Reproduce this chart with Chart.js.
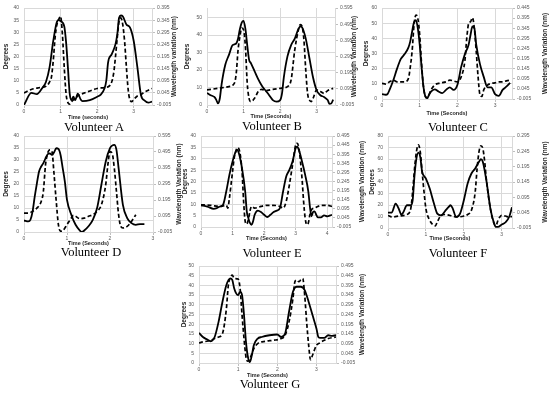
<!DOCTYPE html>
<html>
<head>
<meta charset="utf-8">
<script src="https://cdn.jsdelivr.net/npm/chart.js@4.4.0/dist/chart.umd.min.js"></script>
<style>
  html, body { margin: 0; padding: 0; background: #fff; }
  #fig { position: relative; width: 550px; height: 393px; overflow: hidden; background: #fff; }
  #fig canvas { position: absolute; }
  .cap { position: absolute; width: 120px; text-align: center; font: 12.5px 'Liberation Serif', 'Times New Roman', serif; line-height: 18px; color: #000; white-space: nowrap; }
</style>
</head>
<body>
<div id="fig"></div>
<script>
// ---- Volunteer A ----
const tA = [0,0.2,0.35,0.5,0.6,0.7,0.8,0.9,0.95,1.0,1.1,1.15,1.2,1.25,1.3,1.35,1.4,1.47,1.55,1.6,1.8,2.0,2.1,2.2,2.25,2.3,2.4,2.5,2.55,2.6,2.65,2.7,2.8,2.9,3.0,3.1,3.2,3.3,3.4,3.5];
const degA = [0,5,4.5,7,9.5,15.6,26.4,34.3,35,34.6,32.5,26,15.6,4.7,2,3.4,2,4.7,2.3,1.6,2,3.4,4.3,6.8,10,17.6,21,25,29,36,36.9,36.6,33.2,31.9,26.4,15.6,4,1.8,1,1.4];
const twA = [0,0.2,0.4,0.6,0.7,0.75,0.8,0.85,0.9,0.95,1.0,1.05,1.1,1.15,1.2,1.25,1.3,1.4,1.5,1.6,1.8,2.0,2.2,2.35,2.45,2.5,2.55,2.6,2.65,2.7,2.75,2.8,2.85,2.9,2.95,3.0,3.1,3.2,3.3,3.4,3.5];
const wavA = [0.045,0.059,0.066,0.072,0.090,0.110,0.178,0.273,0.327,0.348,0.361,0.287,0.151,0.042,0.005,-0.001,0.009,0.022,0.036,0.042,0.053,0.063,0.067,0.076,0.124,0.192,0.273,0.341,0.354,0.327,0.259,0.151,0.056,0.015,0.009,0.018,0.032,0.038,0.049,0.056,0.063];
const secTicksA = [0,1,2,3];
const degTicksA = [0,5,10,15,20,25,30,35,40];
const wavTicksA = [-0.005,0.045,0.095,0.145,0.195,0.245,0.295,0.345,0.395];

// ---- Volunteer B ----
const tB = [0,0.1,0.2,0.25,0.3,0.35,0.4,0.5,0.6,0.7,0.8,0.85,0.9,0.95,1.0,1.05,1.1,1.15,1.2,1.3,1.4,1.5,1.6,1.7,1.8,1.9,2.0,2.05,2.1,2.2,2.3,2.4,2.5,2.55,2.6,2.7,2.8,2.9,3.0,3.1,3.2,3.3,3.35,3.4,3.45];
const degB = [6.9,5.6,4.6,3.1,0.9,3.7,12,23,28.7,34.3,35.2,38,43.5,47.2,48.1,43.5,34.3,26,24,19.4,14.8,11,8.3,5.6,2.8,1.9,2.8,6.5,15.7,27.8,34.3,38,43.5,45,44.4,38,26.9,15.7,8.3,5.6,4.6,2.8,0.6,0.9,3.1];
const twB = [0,0.3,0.6,0.75,0.8,0.85,0.9,0.95,1.0,1.05,1.1,1.15,1.2,1.3,1.4,1.5,1.6,1.8,2.0,2.2,2.3,2.4,2.5,2.55,2.6,2.65,2.7,2.75,2.8,2.85,2.9,3.0,3.1,3.2,3.3,3.45];
const wavB = [0.088,0.098,0.109,0.13,0.192,0.336,0.419,0.471,0.46,0.357,0.13,0.036,0.016,0.036,0.078,0.092,0.084,0.092,0.098,0.109,0.15,0.336,0.46,0.492,0.481,0.398,0.212,0.067,0.026,0.016,0.036,0.088,0.078,0.067,0.084,0.098];
const secTicksB = [0,1,2,3];
const degTicksB = [0,10,20,30,40,50];
const wavTicksB = [-0.005,0.095,0.195,0.295,0.395,0.495,0.595];

// ---- Volunteer C ----
const tC = [0,0.1,0.15,0.2,0.3,0.4,0.5,0.6,0.7,0.75,0.8,0.85,0.9,0.95,1.0,1.05,1.1,1.15,1.2,1.25,1.3,1.4,1.5,1.6,1.7,1.8,1.9,2.0,2.1,2.2,2.3,2.35,2.4,2.45,2.5,2.6,2.7,2.8,2.9,3.0,3.1,3.2,3.3,3.4];
const degC = [3.2,2.8,3.4,6,12.4,20,26.4,29.6,33.9,38,44.6,50.6,52,46.7,36,21,8.1,1.7,0.6,2.8,4.9,6.4,4.9,3.9,6,7.7,6,9.2,21,29.6,36,42.4,47.8,46.7,36,23,14.6,7.7,7.7,3.2,2.1,6,8.1,10.7];
const twC = [0,0.1,0.2,0.3,0.4,0.6,0.7,0.75,0.8,0.85,0.9,0.95,1.0,1.05,1.1,1.15,1.2,1.3,1.4,1.5,1.7,1.8,2.0,2.1,2.2,2.25,2.3,2.35,2.4,2.45,2.5,2.55,2.6,2.65,2.7,2.8,2.9,3.0,3.1,3.2,3.3,3.4];
const wavC = [0.072,0.069,0.080,0.088,0.080,0.080,0.096,0.152,0.233,0.361,0.41,0.394,0.313,0.169,0.056,0.008,0,0.040,0.064,0.072,0.080,0.088,0.080,0.104,0.185,0.297,0.369,0.377,0.397,0.345,0.233,0.104,0.016,0.008,0.040,0.064,0.072,0.075,0.080,0.080,0.085,0.088];
const secTicksC = [0,1,2,3];
const degTicksC = [0,10,20,30,40,50,60];
const wavTicksC = [-0.005,0.045,0.095,0.145,0.195,0.245,0.295,0.345,0.395,0.445];

// ---- Volunteer D ----
const tD = [0,0.1,0.15,0.2,0.25,0.3,0.35,0.4,0.45,0.5,0.55,0.6,0.65,0.7,0.75,0.8,0.85,0.9,0.95,1.0,1.1,1.2,1.3,1.35,1.4,1.5,1.6,1.7,1.8,1.9,2.0,2.05,2.1,2.15,2.2,2.3,2.4,2.5,2.6,2.7,2.8];
const degD = [4.8,4.4,5.1,8.6,14.8,20.3,25.2,27.3,28.7,30.7,32.4,32.8,32.1,33.2,34.9,34.6,32.1,26.6,21,13.4,7.2,3,0.6,0,0.6,2.4,5.1,10,19.7,29.3,34.9,36,36.3,34.2,26.6,11.3,5.8,3.7,3,3.3,3.3];
const twD = [0,0.1,0.2,0.3,0.4,0.45,0.5,0.55,0.6,0.65,0.7,0.75,0.8,0.85,0.9,1.0,1.1,1.15,1.2,1.3,1.4,1.5,1.6,1.7,1.8,1.9,1.95,2.0,2.05,2.1,2.15,2.2,2.25,2.3,2.4,2.5,2.6];
const wavD = [0.113,0.113,0.124,0.144,0.186,0.248,0.414,0.487,0.508,0.497,0.352,0.186,0.041,0,0.003,0.041,0.082,0.099,0.093,0.078,0.082,0.093,0.103,0.124,0.165,0.29,0.414,0.497,0.487,0.394,0.248,0.103,0.030,0.020,0.030,0.061,0.103];
const secTicksD = [0,1,2,3];
const degTicksD = [0,5,10,15,20,25,30,35,40];
const wavTicksD = [-0.005,0.095,0.195,0.295,0.395,0.495,0.595];

// ---- Volunteer E ----
const tE = [0,0.2,0.4,0.5,0.6,0.7,0.8,0.9,1.0,1.1,1.15,1.2,1.3,1.4,1.45,1.5,1.55,1.6,1.65,1.7,1.8,1.9,2.0,2.1,2.2,2.3,2.4,2.5,2.6,2.7,2.8,2.9,3.0,3.05,3.1,3.2,3.3,3.4,3.45,3.5,3.55,3.6,3.65,3.7,3.8,3.9,4.0,4.1,4.15];
const degE = [9.5,9,8,8.3,9,9.8,15.6,22.9,28.8,33.1,33.9,32.4,25.8,15.6,6.9,3.9,1.8,1,2.5,5.4,7.2,6.6,5.4,4.4,5.4,6.6,7.2,8.3,15.6,22.2,25.1,28.8,34.6,35.3,33.9,28.8,22.9,15.6,9,4.7,6.6,6.9,5.4,4.2,4.2,5.1,4.7,5.1,5.4];
const twE = [0,0.3,0.6,0.8,0.85,0.9,1.0,1.05,1.1,1.15,1.2,1.3,1.35,1.4,1.45,1.5,1.55,1.6,1.7,1.9,2.1,2.3,2.5,2.6,2.7,2.8,2.9,3.0,3.05,3.1,3.2,3.25,3.3,3.35,3.4,3.45,3.5,3.6,3.7,3.8,4.0,4.15];
const wavE = [0.117,0.114,0.108,0.114,0.099,0.154,0.30,0.373,0.409,0.431,0.424,0.30,0.136,0.026,0.011,0.035,0.081,0.108,0.099,0.108,0.114,0.114,0.108,0.099,0.136,0.227,0.336,0.446,0.455,0.428,0.263,0.136,0.044,0.008,0.017,0.063,0.090,0.099,0.108,0.114,0.114,0.108];
const secTicksE = [0,1,2,3,4];
const degTicksE = [0,5,10,15,20,25,30,35,40];
const wavTicksE = [-0.005,0.045,0.095,0.145,0.195,0.245,0.295,0.345,0.395,0.445,0.495];

// ---- Volunteer F ----
const tF = [0,0.1,0.2,0.3,0.35,0.4,0.5,0.6,0.65,0.7,0.75,0.8,0.85,0.9,1.0,1.1,1.2,1.3,1.4,1.5,1.6,1.65,1.7,1.8,1.9,2.0,2.1,2.2,2.3,2.4,2.45,2.5,2.6,2.7,2.8,2.85,2.9,3.0,3.1,3.2,3.27];
const degF = [13.4,13.4,21.2,15.4,11.6,13.4,19.8,19.8,24.1,46,60.5,65.5,62,48.9,43,34.3,22.7,12.5,11,14.5,18.3,19.8,17.5,9.6,12.5,24.1,38.7,47.4,51.8,57.6,59.9,57.6,40.1,16.9,3.8,0.9,0.9,3,5,10,18];
const twF = [0,0.1,0.3,0.5,0.6,0.65,0.7,0.75,0.8,0.85,0.9,0.95,1.0,1.1,1.2,1.25,1.3,1.4,1.5,1.7,1.8,2.0,2.1,2.2,2.3,2.35,2.4,2.45,2.5,2.55,2.6,2.7,2.8,2.85,2.9,2.95,3.0,3.1,3.2,3.27];
const wavF = [0.036,0.031,0.034,0.039,0.058,0.113,0.189,0.244,0.266,0.244,0.178,0.113,0.058,0.020,0.004,0.002,0.015,0.036,0.039,0.034,0.031,0.034,0.039,0.053,0.113,0.189,0.244,0.263,0.255,0.211,0.146,0.058,0.009,0.004,0.020,0.031,0.036,0.034,0.030,0.033];
const secTicksF = [0,1,2,3];
const degTicksF = [0,10,20,30,40,50,60,70,80];
const wavTicksF = [-0.005,0.045,0.095,0.145,0.195,0.245,0.295];

// ---- Volunteer G ----
const tG = [0,0.1,0.2,0.3,0.4,0.5,0.6,0.7,0.8,0.85,0.9,0.95,1.0,1.05,1.1,1.15,1.2,1.25,1.3,1.35,1.4,1.5,1.6,1.8,2.0,2.1,2.2,2.3,2.4,2.5,2.6,2.7,2.8,2.9,3.0,3.05,3.1,3.2,3.3,3.4,3.5];
const degG = [15.5,13.4,12.2,11.2,13.4,21.2,31.6,40.2,43.6,42.8,38.4,35.9,35,36.7,35,24.7,10.9,3.1,0.5,4,9.1,12.6,13.4,14.3,14.7,13.4,15.2,26.4,36.7,39.3,39.3,37.6,31.6,24.7,17.8,13.4,12.9,12.9,14.3,14,14.3];
const twG = [0,0.1,0.2,0.3,0.4,0.5,0.6,0.7,0.75,0.8,0.85,0.9,1.0,1.05,1.1,1.15,1.2,1.25,1.3,1.35,1.4,1.5,1.7,1.9,2.1,2.2,2.3,2.4,2.45,2.5,2.55,2.6,2.65,2.7,2.75,2.8,2.85,2.9,3.0,3.1,3.2,3.3,3.5];
const wavG = [0.098,0.104,0.107,0.112,0.121,0.129,0.147,0.276,0.397,0.435,0.448,0.431,0.428,0.379,0.242,0.121,0.026,0.004,0.017,0.043,0.069,0.095,0.107,0.112,0.121,0.138,0.207,0.328,0.414,0.423,0.414,0.423,0.431,0.345,0.207,0.09,0.012,0.035,0.086,0.100,0.112,0.121,0.129];
const secTicksG = [0,1,2,3];
const degTicksG = [0,5,10,15,20,25,30,35,40,45,50];
const wavTicksG = [-0.005,0.045,0.095,0.145,0.195,0.245,0.295,0.345,0.395,0.445,0.495];

const gridColor = '#d9d9d9';
const tickColor = '#595959';
const titleColor = '#262626';
const tickFont = {family: 'Liberation Sans', size: 5};

// title on the right axis, written bottom-to-top like the left one
const rightTitle = {
  id: 'rightTitle',
  afterDraw(chart, args, opts) {
    const {ctx, chartArea} = chart;
    ctx.save();
    ctx.translate(chart.width - 4.5, (chartArea.top + chartArea.bottom) / 2);
    ctx.rotate(-Math.PI / 2);
    ctx.font = 'bold 6.5px "Liberation Sans"';
    ctx.fillStyle = titleColor;
    ctx.textAlign = 'center';
    ctx.textBaseline = 'middle';
    ctx.fillText(opts.text, 0, 0);
    ctx.restore();
  }
};

function pts(ts, vs) {
  return ts.map((t, i) => ({x: t, y: vs[i]}));
}

const panels = [
  {name: 'Volunteer A', box: [2, 0, 177, 121], plot: [24, 7, 152, 105], cap: [94, 127],
   t: tA, deg: degA, tw: twA, wav: wavA, sec: secTicksA, degT: degTicksA, wavT: wavTicksA,
   xMax: 3.5, degMax: 40, xTitle: 'Time (seconds)', rTitle: 'Wavelength variation (nm)'},
  {name: 'Volunteer B', box: [183, 0, 176, 120], plot: [207, 5, 335, 105], cap: [272, 126],
   t: tB, deg: degB, tw: twB, wav: wavB, sec: secTicksB, degT: degTicksB, wavT: wavTicksB,
   xMax: 3.5, degMax: 55.5, xTitle: 'Time (Seconds)', rTitle: 'Wavelength Variation (nm)'},
  {name: 'Volunteer C', box: [362, 0, 188, 117], plot: [382, 6, 512, 99], cap: [458, 127],
   t: tC, deg: degC, tw: twC, wav: wavC, sec: secTicksC, degT: degTicksC, wavT: wavTicksC,
   xMax: 3.45, degMax: 60, xTitle: 'Time (Seconds)', rTitle: 'Wavelength Variation (nm)'},
  {name: 'Volunteer D', box: [2, 128, 182, 119], plot: [24, 136, 153, 232], cap: [91, 252],
   t: tD, deg: degD, tw: twD, wav: wavD, sec: secTicksD, degT: degTicksD, wavT: wavTicksD,
   xMax: 3, degMax: 40, xTitle: 'Time (Seconds)', rTitle: 'Wavelength Variation (nm)'},
  {name: 'Volunteer E', box: [181, 128, 186, 114], plot: [201, 136, 332, 227], cap: [272, 253],
   t: tE, deg: degE, tw: twE, wav: wavE, sec: secTicksE, degT: degTicksE, wavT: wavTicksE,
   xMax: 4.15, degMax: 40, xTitle: 'Time (Seconds)', rTitle: 'Wavelength Variation (nm)'},
  {name: 'Volunteer F', box: [368, 128, 182, 114], plot: [388, 136, 512, 228], cap: [458, 253],
   t: tF, deg: degF, tw: twF, wav: wavF, sec: secTicksF, degT: degTicksF, wavT: wavTicksF,
   xMax: 3.27, degMax: 80, xTitle: 'Time (Seconds)', rTitle: 'Wavelength Variation (nm)'},
  {name: 'Volunteer G', box: [180, 258, 187, 121], plot: [199, 266, 336, 363], cap: [270, 384],
   t: tG, deg: degG, tw: twG, wav: wavG, sec: secTicksG, degT: degTicksG, wavT: wavTicksG,
   xMax: 3.5, degMax: 50, xTitle: 'Time (Seconds)', rTitle: 'Wavelength Variation (nm)'}
];

const fig = document.getElementById('fig');

function drawPanel(p) {
  const [bx, by, bw, bh] = p.box;
  const [l, t, r, b] = p.plot;
  const cv = document.createElement('canvas');
  cv.width = bw;
  cv.height = bh;
  cv.style.left = bx + 'px';
  cv.style.top = by + 'px';
  fig.appendChild(cv);

  const cap = document.createElement('div');
  cap.className = 'cap';
  cap.textContent = p.name;
  cap.style.left = (p.cap[0] - 60) + 'px';
  cap.style.top = (p.cap[1] - 9) + 'px';
  fig.appendChild(cap);

  new Chart(cv, {
    type: 'line',
    data: {
      datasets: [
        {data: pts(p.t, p.deg), yAxisID: 'y', borderColor: '#000', borderWidth: 1.8,
         pointRadius: 0, cubicInterpolationMode: 'monotone', fill: false},
        {data: pts(p.tw, p.wav), yAxisID: 'y1', borderColor: '#000', borderWidth: 1.7,
         borderDash: [4, 2.5], pointRadius: 0, cubicInterpolationMode: 'monotone', fill: false}
      ]
    },
    options: {
      responsive: false,
      animation: false,
      devicePixelRatio: 1,
      layout: {padding: {top: t - by, left: 0, right: 0, bottom: 0}},
      plugins: {
        legend: {display: false},
        tooltip: {enabled: false},
        rightTitle: {text: p.rTitle}
      },
      scales: {
        x: {
          type: 'linear', min: 0, max: p.xMax,
          afterBuildTicks: s => { s.ticks = p.sec.map(v => ({value: v})); },
          afterFit: s => { s.height = by + bh - b; },
          ticks: {font: tickFont, color: tickColor, padding: 1, maxRotation: 0, autoSkip: false},
          grid: {color: gridColor, tickLength: 3, tickColor: '#bfbfbf'},
          border: {display: false},
          title: {display: true, text: p.xTitle, color: titleColor, padding: 0,
                  font: {family: 'Liberation Sans', size: 5.5, weight: 'bold'}}
        },
        y: {
          position: 'left', min: 0, max: p.degMax,
          afterBuildTicks: s => { s.ticks = p.degT.map(v => ({value: v})); },
          afterFit: s => { s.width = l - bx; },
          ticks: {font: tickFont, color: tickColor, padding: 5},
          grid: {color: gridColor, drawTicks: false},
          border: {display: false},
          title: {display: true, text: 'Degrees', color: titleColor, padding: 0,
                  font: {family: 'Liberation Sans', size: 6.5, weight: 'bold'}}
        },
        y1: {
          position: 'right', min: p.wavT[0], max: p.wavT[p.wavT.length - 1],
          afterBuildTicks: s => { s.ticks = p.wavT.map(v => ({value: v})); },
          afterFit: s => { s.width = bx + bw - r; },
          ticks: {font: tickFont, color: tickColor, padding: 2, callback: v => v.toFixed(3)},
          grid: {drawOnChartArea: false, tickLength: 3, tickColor: '#bfbfbf'},
          border: {display: true, color: '#d9d9d9'}
        }
      }
    },
    plugins: [rightTitle]
  });
}

panels.forEach(drawPanel);
</script>
</body>
</html>
